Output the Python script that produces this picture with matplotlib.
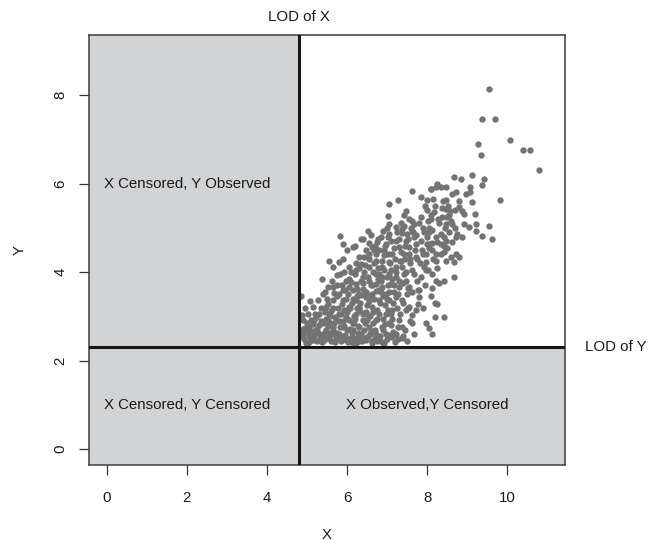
import matplotlib
matplotlib.use("Agg")
import matplotlib.pyplot as plt

# ---------------- data ----------------
lod_x = 4.8
lod_y = 2.3
xlim = (-0.44, 11.44)
ylim = (-0.36, 9.36)
x_ticks = [0, 2, 4, 6, 8, 10]
y_ticks = [0, 2, 4, 6, 8]

region_labels = ["X Censored, Y Observed", "X Censored, Y Censored", "X Observed,Y Censored"]
region_x = [2, 2, 8]
region_y = [6, 1, 1]

obs_x = [
    9.54, 9.38, 9.69, 10.06, 10.38, 10.57, 10.80, 9.26, 9.34, 8.66, 9.11, 9.41, 9.37, 9.83, 9.08, 9.08,
    9.11, 9.19, 9.54, 9.62, 9.36, 9.23, 9.23, 8.93, 8.86, 8.79, 8.92, 8.75, 8.63, 8.63, 8.48, 8.34,
    8.09, 8.00, 8.15, 7.61, 7.26, 7.05, 7.46, 7.42, 7.03, 7.61, 8.09, 8.46, 8.46, 8.50, 8.46, 8.58,
    8.38, 8.04, 8.42, 8.25, 8.13, 8.00, 7.63, 7.38, 7.05, 6.90, 6.53, 6.35, 5.82, 5.89, 6.16, 6.55,
    6.76, 6.97, 7.22, 7.46, 7.67, 7.96, 7.88, 8.21, 8.43, 8.71, 8.79, 8.67, 8.46, 8.42, 8.21, 7.96,
    8.03, 8.13, 8.21, 8.43, 8.67, 8.13, 8.19, 8.25, 8.42, 8.19, 7.96, 8.04, 8.11, 7.80, 7.80, 7.76,
    7.71, 7.63, 7.63, 7.38, 7.37, 7.13, 6.97, 7.09, 7.30, 7.55, 7.46, 7.38, 7.50, 7.55, 7.30, 7.09,
    7.22, 7.42, 7.63, 7.84, 7.92, 7.75, 7.55, 7.34, 7.13, 7.05, 6.88, 6.72, 6.55, 6.43, 6.35, 6.22,
    6.05, 5.93, 5.80, 5.56, 5.64, 5.76, 5.37, 5.52, 5.39, 5.27, 5.14, 5.02, 4.89, 4.89, 5.02, 5.18,
    5.35, 5.47, 5.64, 5.80, 5.97, 6.14, 6.30, 6.47, 6.63, 6.80, 6.93, 6.72, 6.55, 6.39, 6.22, 6.05,
    5.89, 5.80, 5.64, 5.47, 5.31, 5.18, 5.06, 5.56, 5.72, 5.97, 6.14, 6.30, 6.47, 6.63, 6.80, 6.97,
    6.88, 6.72, 6.55, 6.39, 6.22, 6.05, 5.97, 6.30, 6.47, 6.63, 6.80, 6.97, 7.13, 7.05, 7.22, 6.72,
    6.88, 6.22, 5.80, 5.39, 5.64, 5.89, 4.85, 4.88, 4.96, 6.30, 6.14, 5.89, 5.56, 5.22, 6.55, 6.72,
    6.88, 7.05, 7.22, 7.38, 7.46, 6.63, 6.80, 6.97, 6.47, 7.30, 7.42, 7.55, 7.71, 7.84, 8.04, 8.21,
    8.34, 8.46, 8.13, 8.34, 8.54, 8.71, 8.87, 9.04, 7.05, 7.22, 7.38, 7.50, 7.67, 8.10, 8.21, 8.62,
    8.71, 8.96,
    4.92, 5.05, 5.12, 5.25, 5.30, 5.42, 5.48, 5.55, 5.60, 5.68, 5.72, 5.78, 5.85, 5.90, 5.95, 6.00,
    6.02, 6.08, 6.12, 6.18, 6.20, 6.25, 6.28, 6.33, 6.38, 6.40, 6.45, 6.50, 6.52, 6.58, 6.60, 6.62,
    6.68, 6.70, 6.75, 6.78, 6.82, 6.85, 6.90, 6.92, 6.95, 7.00, 7.02, 7.08, 7.10, 7.15, 7.18, 7.20,
    7.25, 7.28,
    5.10, 5.20, 5.35, 5.40, 5.50, 5.58, 5.65, 5.75, 5.82, 5.88, 5.98, 6.05, 6.15, 6.22, 6.35, 6.42,
    6.48, 6.55, 6.65, 6.72, 6.80, 6.88, 6.95, 7.05, 7.12, 7.30, 7.35, 7.40, 7.48, 7.52, 7.58, 7.62,
    7.70, 7.75, 7.82, 7.90, 7.95, 8.00, 8.05, 8.15,
    4.95, 5.00, 5.08, 5.15, 5.22, 5.28, 5.38, 5.45, 5.52, 5.62, 5.70, 5.80, 5.92, 6.00, 6.10, 6.15,
    6.25, 6.30, 6.42, 6.48, 6.58, 6.65, 6.75, 6.80, 6.90, 7.00, 7.05, 7.15, 7.22, 7.40,
    5.90, 6.00, 6.10, 6.20, 6.30, 6.40, 6.60, 6.70, 6.85, 7.00, 7.10, 7.25, 7.35, 7.45, 7.55, 7.65,
    7.80, 7.90, 8.00, 8.10, 8.20, 8.30, 8.40, 8.55, 8.70, 8.80, 8.85, 8.25, 7.85, 7.95,
]
obs_y = [
    8.15, 7.47, 7.47, 6.99, 6.76, 6.77, 6.31, 6.89, 6.64, 6.16, 6.19, 6.11, 5.97, 5.62, 5.92, 5.80,
    5.58, 5.32, 5.05, 4.74, 4.81, 4.93, 5.09, 5.08, 5.39, 5.47, 5.32, 4.87, 4.68, 5.09, 5.92, 5.93,
    5.88, 5.64, 5.65, 5.84, 5.64, 5.53, 5.39, 5.28, 5.26, 5.15, 5.28, 5.62, 5.43, 5.24, 5.09, 5.39,
    5.24, 4.90, 4.79, 4.68, 4.66, 4.64, 4.94, 4.88, 4.87, 4.94, 4.94, 4.75, 4.81, 4.63, 4.57, 4.65,
    4.68, 4.64, 4.71, 4.71, 4.79, 4.42, 4.49, 4.42, 4.45, 4.42, 4.34, 4.23, 4.26, 4.59, 4.26, 4.23,
    4.04, 3.96, 3.81, 3.81, 3.90, 3.63, 3.31, 3.27, 2.99, 2.99, 2.85, 2.73, 2.61, 3.59, 3.44, 3.27,
    3.14, 3.03, 2.85, 2.76, 2.50, 2.54, 2.61, 2.80, 2.91, 3.21, 3.14, 3.36, 3.51, 3.66, 3.66, 3.74,
    3.89, 3.96, 4.04, 3.89, 4.11, 4.30, 4.42, 4.26, 4.42, 4.23, 4.11, 4.26, 4.42, 4.34, 4.19, 4.04,
    4.11, 4.00, 4.23, 4.26, 4.11, 3.93, 3.85, 3.66, 3.51, 3.36, 3.21, 3.06, 2.91, 2.61, 2.39, 2.46,
    2.54, 2.69, 2.76, 2.61, 2.46, 2.39, 2.54, 2.46, 2.39, 2.50, 2.39, 2.61, 2.76, 2.91, 3.06, 3.21,
    3.36, 3.51, 3.36, 3.21, 3.06, 2.91, 2.76, 3.06, 2.91, 2.99, 2.84, 2.76, 3.06, 3.21, 3.36, 3.51,
    3.66, 3.74, 3.81, 3.89, 3.74, 3.66, 3.81, 3.51, 3.44, 3.51, 3.06, 3.06, 3.14, 3.36, 3.44, 2.91,
    2.76, 3.36, 3.06, 2.84, 3.66, 3.59, 3.46, 3.03, 2.73, 3.21, 2.69, 2.76, 2.54, 2.69, 4.11, 3.96,
    3.89, 3.96, 4.11, 4.11, 3.81, 4.57, 4.49, 4.42, 4.49, 4.57, 4.42, 4.57, 4.64, 4.71, 4.64, 4.79,
    4.64, 4.71, 4.49, 4.87, 4.90, 4.79, 4.79, 5.02, 5.09, 5.02, 4.98, 4.87, 5.09, 5.88, 5.92, 5.77,
    5.80, 5.77,
    2.48, 2.55, 2.68, 2.45, 2.80, 2.47, 2.95, 2.62, 2.44, 2.85, 2.52, 3.18, 2.45, 2.90, 2.58, 3.10,
    2.42, 2.72, 3.30, 2.50, 2.95, 3.45, 2.62, 3.12, 2.44, 3.62, 2.85, 3.25, 2.55, 3.00, 3.70, 2.45,
    3.40, 2.70, 3.15, 3.85, 2.55, 3.55, 2.95, 4.05, 3.25, 2.48, 3.70, 4.20, 3.05, 2.65, 3.55, 4.30,
    3.20, 2.48,
    2.92, 3.05, 3.20, 2.60, 3.40, 3.00, 3.20, 3.45, 2.75, 3.70, 3.40, 3.85, 3.60, 4.20, 3.80, 4.00,
    3.55, 4.30, 4.00, 4.40, 3.95, 4.25, 4.60, 4.40, 3.85, 3.80, 4.45, 3.30, 4.00, 3.20, 4.30, 3.55,
    4.50, 3.80, 4.20, 4.40, 3.70, 4.80, 5.00, 4.30,
    3.20, 2.85, 3.35, 2.50, 2.98, 2.62, 2.42, 3.10, 2.78, 2.60, 2.42, 2.90, 3.15, 2.70, 2.50, 2.85,
    3.20, 2.45, 2.70, 3.10, 2.60, 2.85, 2.45, 3.60, 2.70, 3.40, 2.85, 3.30, 2.60, 2.55,
    4.30, 4.50, 4.00, 4.60, 4.35, 4.75, 4.85, 4.60, 4.80, 5.00, 4.70, 4.90, 5.10, 4.60, 5.20, 4.90,
    5.10, 5.00, 5.40, 5.20, 5.50, 5.10, 5.60, 5.30, 5.00, 5.60, 6.10, 6.00, 5.70, 5.50,
]

# extra points read from the dense part of the cloud
dense_x = [
    4.86, 4.90, 4.98, 5.03, 5.08, 5.14, 5.18, 5.24, 5.32, 5.36,
    5.44, 5.50, 5.54, 5.59, 5.66, 5.70, 5.76, 5.84, 5.86, 5.93,
    5.99, 6.04, 6.07, 6.13, 6.17, 6.23, 6.27, 6.32, 6.36, 6.41,
    6.46, 6.51, 6.56, 6.61, 6.66, 6.71, 6.76, 6.83, 6.87, 6.94,
    7.01, 7.07, 7.12, 7.19, 7.26, 7.33, 7.45, 7.50, 7.58, 7.68,
    5.45, 5.53, 5.62, 5.68, 5.74, 5.83, 5.87, 5.94, 6.03, 6.09,
    6.14, 6.19, 6.24, 6.29, 6.34, 6.39, 6.44, 6.53, 6.57, 6.63,
    6.67, 6.73, 6.77, 6.84, 6.89, 6.93, 6.99, 7.04, 7.09, 7.16,
    7.21, 7.27, 7.32, 7.39, 7.44, 7.53, 7.57, 7.66, 7.73, 7.78,
    6.68, 6.78, 6.92, 7.02, 7.18, 7.30, 7.42, 7.52, 7.60, 7.72,
    7.85, 7.92, 8.02, 8.12, 8.18, 8.28, 8.36, 8.44, 8.52, 8.60,
    8.70, 8.35, 8.50, 8.60, 8.25, 8.05, 7.98, 8.30, 8.10, 7.90,
]
dense_y = [
    2.55, 2.72, 2.40, 2.65, 2.45, 2.82, 2.58, 2.72, 2.52, 2.90,
    2.65, 2.50, 2.88, 3.12, 2.70, 2.98, 2.62, 3.05, 2.55, 2.78,
    2.48, 2.92, 3.20, 2.62, 3.00, 2.40, 2.78, 3.30, 2.60, 3.05,
    2.50, 2.92, 3.35, 2.68, 3.10, 2.52, 2.95, 3.30, 2.42, 2.82,
    3.15, 2.58, 2.95, 2.42, 2.75, 3.05, 2.70, 2.45, 2.90, 2.60,
    3.55, 3.28, 3.80, 3.52, 3.70, 3.95, 3.28, 3.60, 3.50, 3.78,
    3.40, 3.95, 3.62, 4.10, 3.48, 3.75, 4.15, 3.88, 3.45, 3.72,
    4.20, 3.58, 4.10, 3.80, 3.45, 4.38, 3.88, 3.55, 4.05, 3.70,
    4.00, 3.50, 4.25, 3.75, 4.30, 3.65, 4.20, 3.95, 4.35, 3.60,
    4.50, 4.75, 4.50, 4.80, 4.55, 4.75, 5.05, 4.75, 5.00, 4.85,
    5.25, 4.90, 5.15, 4.95, 5.35, 5.20, 5.45, 5.00, 5.50, 5.15,
    5.40, 4.40, 4.55, 4.35, 4.10, 4.55, 4.05, 3.75, 3.45, 3.20,
]

all_x = obs_x + dense_x
all_y = obs_y + dense_y

# ---------------- figure ----------------
plt.rcParams['font.family'] = ['Liberation Sans', 'DejaVu Sans']
fs = 10.8
txt = '#1a1a1a'
fig = plt.figure(figsize=(6.53, 5.41), dpi=100)
ax = fig.add_axes([89 / 653, 1 - 465 / 541, (565 - 89) / 653, (465 - 35) / 541])
ax.set_xlim(*xlim)
ax.set_ylim(*ylim)

fill = '#d2d3d5'
ax.axvspan(xlim[0], lod_x, color=fill, lw=0, zorder=0)
ax.axhspan(ylim[0], lod_y, color=fill, lw=0, zorder=0)

ax.scatter(all_x, all_y, s=21, color='#737375', lw=0, zorder=2)

ax.axvline(lod_x, color='#161616', lw=2.2, zorder=3)
ax.axhline(lod_y, color='#161616', lw=2.2, zorder=3)

for t, x, y in zip(region_labels, region_x, region_y):
    ax.text(x, y, t, ha='center', va='center', fontsize=fs, color=txt, zorder=4)

ax.annotate('LOD of X', xy=(lod_x, 1), xycoords=('data', 'axes fraction'),
            xytext=(0, 18), textcoords='offset pixels', ha='center', va='center',
            fontsize=fs, color=txt, annotation_clip=False)
ax.annotate('LOD of Y', xy=(1, lod_y), xycoords=('axes fraction', 'data'),
            xytext=(20, 0), textcoords='offset pixels', ha='left', va='center',
            fontsize=fs, color=txt, annotation_clip=False)

ax.set_xticks(x_ticks)
ax.set_yticks(y_ticks)
ax.set_xticklabels([str(v) for v in x_ticks])
ax.set_yticklabels([str(v) for v in y_ticks], rotation=90, va='center')
ax.tick_params(axis='both', direction='out', length=7.5, width=0.9, color='#333333',
               labelsize=fs, labelcolor=txt)
ax.tick_params(axis='x', pad=11)
ax.tick_params(axis='y', pad=8)
for s in ax.spines.values():
    s.set_color('#4a4a4a')
    s.set_linewidth(1.2)

ax.set_xlabel('X', fontsize=fs, color=txt, labelpad=17)
ax.set_ylabel('Y', fontsize=fs, color=txt, labelpad=19)

fig.savefig('out.png', dpi=100)
